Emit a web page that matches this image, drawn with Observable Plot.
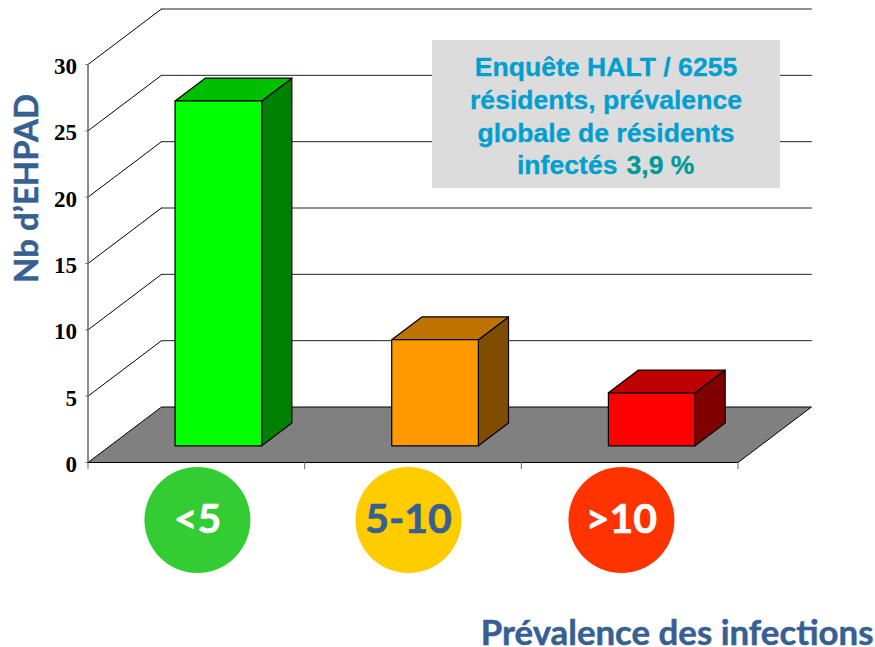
<!DOCTYPE html>
<html><head><meta charset="utf-8">
<style>html,body{margin:0;padding:0;background:#fff}svg{display:block;overflow:visible}</style>
<script src="https://cdn.jsdelivr.net/npm/d3@7"></script>
<script src="https://cdn.jsdelivr.net/npm/@observablehq/plot@0.6"></script>
</head><body><script>
const categories = ["<5", "5-10", ">10"];
const values = [26, 8, 4];
const yTicks = [0, 5, 10, 15, 20, 25, 30];
const xTicks = [0, 1, 2, 3];
const frontColors = ["#00FF00", "#FF9900", "#FF0000"];
const topColors = ["#00BF00", "#BF7300", "#BF0000"];
const sideColors = ["#008000", "#804D00", "#800000"];
const badgeColors = ["#33CC33", "#FFCC00", "#FF3300"];
const badgeTextColors = ["#FFFFFF", "#376092", "#FFFFFF"];
const badgeX = [0.505, 1.479, 2.462];
const noteLines = ["Enquête HALT / 6255", "résidents, prévalence", "globale de résidents"];

// oblique projection: depth 0 = front of floor, depth 1 = back wall
const DX = 0.3392, DY = 4.183;
const P = (x, v, d) => ({px: x + d * DX, py: v + d * DY});
const BAR = 0.2, D0 = 0.30, D1 = 0.71;

const faces = [];
function face(id, fill, pts) {
  [...pts, pts[0]].forEach(p => faces.push({...p, id, fill}));
}
values.forEach((v, i) => {
  const a = i + 0.5 - BAR, b = i + 0.5 + BAR;
  face(`s${i}`, sideColors[i], [P(b, 0, D0), P(b, 0, D1), P(b, v, D1), P(b, v, D0)]);
  face(`t${i}`, topColors[i], [P(a, v, D0), P(b, v, D0), P(b, v, D1), P(a, v, D1)]);
  face(`f${i}`, frontColors[i], [P(a, 0, D0), P(b, 0, D0), P(b, v, D0), P(a, v, D0)]);
});
const floor = [P(0,0,0), P(3,0,0), P(3,0,1), P(0,0,1), P(0,0,0)];
const diagonals = yTicks.slice(1).flatMap(v => [{...P(0,v,0), v}, {...P(0,v,1), v}]);
const backLines = yTicks.slice(1).flatMap(v => [{...P(0,v,1), v}, {...P(3,v,1), v}]);
const at = (x, y) => ({frameAnchor: "top-left", dx: x - 87.5, dy: y - 64, textAnchor: "middle", lineAnchor: "middle"});
const noteFont = {fontFamily: "Liberation Sans", fontWeight: "bold", fontSize: 26.6, strokeWidth: 0.3};
const titleFont = {fontFamily: "Lato", fontWeight: "bold", fill: "#376092", stroke: "#376092", strokeWidth: 0.5};

const chart = Plot.plot({
  width: 875, height: 647,
  marginLeft: 87.5, marginRight: 137.5, marginTop: 64, marginBottom: 185,
  x: {domain: [0, 3]},
  y: {domain: [0, 30]},
  color: {type: "identity"},
  marks: [
    Plot.line(diagonals, {x: "px", y: "py", z: "v", stroke: "#000", strokeWidth: 1}),
    Plot.line(backLines, {x: "px", y: "py", z: "v", stroke: "#222", strokeWidth: 1}),
    Plot.line(floor, {x: "px", y: "py", fill: "#808080", stroke: "#000", strokeWidth: 1}),
    Plot.axisY({ticks: yTicks, tickSize: 2, tickPadding: 9, stroke: "#666", label: null, textStroke: "none",
      fontFamily: "Liberation Serif", fontWeight: "bold", fontSize: 23, fill: "#000", tickFormat: d => d}),
    Plot.axisX({ticks: xTicks, tickSize: 7, stroke: "#666", label: null, tickFormat: () => ""}),
    Plot.ruleX([0], {y1: 0, y2: 30, stroke: "#666", strokeWidth: 1.5}),
    Plot.line(faces, {x: "px", y: "py", z: "id", fill: "fill", stroke: "#000", strokeWidth: 1.2}),
    Plot.rect([0], {x1: 1.590, x2: 3.196, y1: 20.65, y2: 31.81, fill: "#DCDCDC"}),
    ...noteLines.map((t, i) => Plot.text([t], {text: d => d, ...at(605.5, 66.5 + i * 33), fill: "#009FD0", stroke: "#009FD0", ...noteFont})),
    Plot.text(["infectés"], {text: d => d, ...at(617, 164.5), textAnchor: "end", fill: "#009FD0", stroke: "#009FD0", ...noteFont}),
    Plot.text(["3,9 %"], {text: d => d, ...at(626, 164.5), textAnchor: "start", fill: "#009999", stroke: "#009999", ...noteFont}),
    Plot.dot(categories, {x: (d, i) => badgeX[i], y: () => -4.33, r: 53, fill: (d, i) => badgeColors[i]}),
    Plot.text(categories, {x: (d, i) => badgeX[i], y: () => -4.33, text: d => d, fill: (d, i) => badgeTextColors[i],
      stroke: (d, i) => badgeTextColors[i], strokeWidth: 0.6, fontFamily: "Lato", fontWeight: "bold", fontSize: 41}),
    Plot.text(["Nb d’EHPAD"], {text: d => d, ...at(27, 188), rotate: -90, fontSize: 33, ...titleFont}),
    Plot.text(["Prévalence des infections"], {text: d => d, ...at(873, 633), textAnchor: "end", fontSize: 34.8, ...titleFont})
  ]
});
// tick labels sit slightly below their ticks in the reference
chart.querySelectorAll('g[aria-label="y-axis tick label"] text').forEach(t => t.setAttribute("dy", "2"));
document.body.appendChild(chart);
</script></body></html>
